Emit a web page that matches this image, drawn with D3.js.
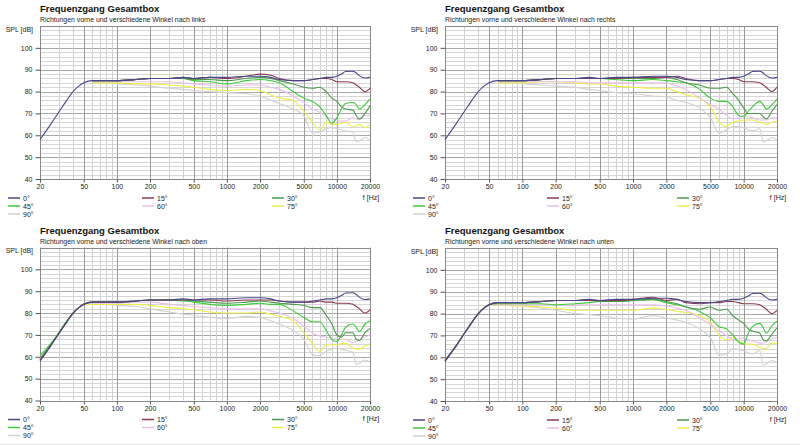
<!DOCTYPE html>
<html>
<head>
<meta charset="utf-8">
<script src="https://cdn.jsdelivr.net/npm/d3@7"></script>
<style>
  body { margin: 0; background: #fff; }
  svg { display: block; font-family: "Liberation Sans", Arial, sans-serif; }
</style>
</head>
<body>
<svg id="chart" width="800" height="445"></svg>
<script>
// frequencies shared by every curve
const FREQ = [20, 25, 30, 35, 40, 45, 50, 60, 70, 80, 100, 150, 200, 300, 400, 500, 700, 1000, 1500,
  2000, 2500, 3000, 4000, 5000, 6000, 7000, 8000, 9000, 10000, 11000, 12000, 14000, 15000, 16000, 18000, 20000];

const ANGLES = ['0°', '15°', '30°', '45°', '60°', '75°', '90°'];
const COLORS = ['#47478c', '#8c3c52', '#4b9a4b', '#3ccc3c', '#e9c0e9', '#eeee4a', '#d2d2d2'];

const X_TICKS = [20, 50, 100, 200, 500, 1000, 2000, 5000, 10000, 20000];
const Y_TICKS = [40, 50, 60, 70, 80, 90, 100];

const TITLE = 'Frequenzgang Gesamtbox';
const SUBTITLES = [
  'Richtungen vorne und verschiedene Winkel nach links',
  'Richtungen vorne und verschiedene Winkel nach rechts',
  'Richtungen vorne und verschiedene Winkel nach oben',
  'Richtungen vorne und verschiedene Winkel nach unten'
];

const _ = null;

// on axis, same in every panel
const ON_AXIS = [58, 65, 71, 76, 80, 82.5, 84, 85, 85, 85, 85, 85.5, 86, 86, 86.5, 86, 86.5, 86.5, 87,
  87, 86.5, 85.5, 85, 85, 85.5, 86, 86.5, 86.5, 87, 88, 89.2, 89.3, 88.5, 87.3, 86.2, 86.5];

// nach links
const LINKS_15 = [_, _, _, _, _, _, _, 85, 85, 85, 85, 85.5, 86, 86, 86.5, 86, 86.5, 86, 87,
  88, 87.5, 86, 85, 85, 85.5, 86, 86, 85.5, 84.5, 84.5, 84.5, 84, 83, 82, 80, 81.5];
const LINKS_30 = [_, _, _, _, _, _, _, 85, 85, 85, 85, 85.5, 86, 86, 86, 85.5, 85.5, 85, 86,
  86.5, 86, 85, 83.5, 82, 81.5, 82, 80, 77, 75.5, 73, 72, 71.5, 69, 67.5, 70, 73.5];
const LINKS_45 = [_, _, _, _, _, _, _, 85, 85, 85, 85, 85.5, 86, 86, 86, 85, 84.5, 83.5, 85,
  85.5, 85, 84, 80, 77, 75.5, 73, 69, 65.5, 68, 72, 74.5, 75, 74, 72, 74, 76.5];
const LINKS_60 = [_, _, _, _, _, _, _, 84.5, 84.5, 84.5, 84.5, 84.5, 84.5, 84.5, 84, 83.5, 83, 82.5, 83,
  83, 82, 81, 78, 75, 72, 70.5, 68.5, 67.5, 67, 66.5, 66.5, 68, 67.5, 67, 69, 69];
const LINKS_75 = [_, _, _, _, _, _, _, 84, 84, 84, 84, 83.5, 83.5, 83, 82.5, 82, 81, 80.5, 81,
  80.5, 78.5, 77, 76, 71, 66, 62.5, 66, 65, 65, 65.5, 66, 64, 64.5, 65, 63.5, 65];
const LINKS_90 = [_, _, _, _, _, _, _, 84, 84, 84, 83.5, 83, 82.5, 81.5, 81, 80.5, 80, 79.5, 79,
  78, 76, 74.5, 72, 69, 61, 61.5, 63, 63.5, 63, 62.5, 62, 61.5, 57, 57.5, 59, 58];

// nach rechts
const RECHTS_15 = [_, _, _, _, _, _, _, 85, 85, 85, 85, 85.5, 86, 86, 86, 86, 86, 86.5, 86.5,
  86.5, 87, 86, 85, 85, 85.5, 86, 86, 85.5, 84.5, 84.5, 84.5, 84, 83, 82, 80, 82];
const RECHTS_30 = [_, _, _, _, _, _, _, 85, 85, 85, 85, 85.5, 86, 86, 86, 86, 86, 86, 86,
  86.5, 85.5, 84, 83, 81.5, 81.5, 82, 79, 76, 72.5, 70, 70, 70, 68.5, 67.5, 71, 74];
const RECHTS_45 = [_, _, _, _, _, _, _, 85, 85, 85, 85, 85.5, 86, 86, 86, 86, 85.5, 85, 85.5,
  85, 84.5, 84, 81, 77, 75.5, 75.5, 73, 69, 68.5, 71, 73, 75.5, 74, 72, 74, 76.5];
const RECHTS_60 = [_, _, _, _, _, _, _, 84.5, 84.5, 84.5, 84.5, 84.5, 84.5, 84.5, 84, 84, 84, 84, 84,
  84, 82.5, 81, 77, 74, 72, 69, 67.5, 68, 69, 68.5, 68, 67, 67, 67, 68, 68];
const RECHTS_75 = [_, _, _, _, _, _, _, 84, 84, 84, 84, 84.5, 84.5, 84, 83.5, 83.5, 82.5, 82, 81.5,
  81.5, 80, 78.5, 77, 73, 66, 64, 66, 66.5, 67, 67, 67, 66, 65.5, 65, 66, 66.5];
const RECHTS_90 = [_, _, _, _, _, _, _, 84, 84, 84, 83.5, 83, 82.5, 82, 81, 80.5, 79.5, 79, 78,
  77.5, 76, 75, 72.5, 68, 61, 62.5, 64, 64, 63.5, 62.5, 62, 63, 57, 57.5, 59, 58];

// nach oben
const OBEN_15 = [58.5, 65, 71, 76, 80, 82.5, 84, 85, 85, 85, 85, 85.5, 86, 86, 86, 86, 86, 85.5, 86,
  86, 86, 85.5, 85, 85, 85, 85.5, 85, 85, 84.5, 84.5, 84.5, 84, 83, 82, 80, 81.5];
const OBEN_30 = [59, 65.5, 71, 76, 80, 82.5, 84, 85, 85, 85, 85, 85.5, 86, 86, 86, 85.5, 85, 84.5, 85,
  85.5, 85, 84.5, 84, 83.5, 82.5, 82.5, 79, 75, 70, 69, 71, 71, 68, 67.5, 71, 73];
const OBEN_45 = [60.5, 66, 71.5, 76.5, 80, 82.5, 84, 85, 85, 85, 85, 85.5, 86, 86, 85.5, 85, 84, 83.5, 84,
  84.5, 84, 84, 81, 78, 76, 76, 72, 68, 67, 70, 73.5, 75, 73.5, 71.5, 75, 76.5];
const OBEN_60 = [59, 65.5, 71, 76, 80, 82.5, 84, 84.5, 84.5, 84.5, 84.5, 85, 85, 84, 83.5, 83, 82.5, 82, 82,
  82, 81, 80, 77.5, 74, 71, 69.5, 69, 68.5, 68.5, 68, 68, 66.5, 67, 68, 69, 70];
const OBEN_75 = [59, 65.5, 71, 76, 80, 82.5, 84, 84, 84, 84, 84, 84, 83.5, 82.5, 82, 81.5, 80.5, 80, 80,
  80.5, 79.5, 78.5, 76.5, 71, 66, 62.5, 65.5, 65.5, 65.5, 66, 66, 64, 63.5, 63.5, 65, 66];
const OBEN_90 = [59, 65.5, 71, 76, 80, 82.5, 84, 84, 84, 84, 83.5, 83, 82, 80.5, 79.5, 79, 78, 77.5, 78.5,
  78, 76.5, 75, 72, 68, 61, 60.5, 62.5, 63.5, 64, 63.5, 63, 62, 56.5, 57, 58.5, 57.5];

// nach unten
const UNTEN_15 = [58.5, 65, 71, 76, 80, 82.5, 84, 85, 85, 85, 85, 85.5, 86, 86, 86, 86, 86, 86.5, 87.5,
  86, 86.5, 85, 84.5, 85, 85, 85.5, 85.5, 85, 84.5, 84.5, 84.5, 84, 83, 82, 80, 81.5];
const UNTEN_30 = [58.5, 65, 71, 76, 80, 82.5, 84, 85, 85, 85, 85, 85.5, 86, 86, 86, 85.5, 85.5, 86, 86.5,
  85.5, 84.5, 83, 82, 83, 81.5, 82, 79, 77, 75.5, 73, 72, 71, 68, 67.5, 70.5, 73.5];
const UNTEN_45 = [58.5, 65, 71, 76, 80, 82.5, 84, 84.5, 84.5, 84.5, 84.5, 84.5, 84, 84.5, 85, 85.5, 85.5, 86, 86.5,
  85, 84, 83, 81, 78, 74, 73, 70, 67, 66, 71, 74, 75.5, 73.5, 71, 74.5, 76.5];
const UNTEN_60 = [58.5, 65, 71, 76, 80, 82.5, 84, 84, 84, 84, 84, 84, 84, 84, 84, 84, 84, 84, 84,
  83.5, 82.5, 81.5, 78, 75, 72, 70, 68, 68.5, 69, 68, 67.5, 66.5, 66.5, 67, 68.5, 69];
const UNTEN_75 = [58.5, 65, 71, 76, 80, 82.5, 84, 84, 84, 83.5, 83.5, 83, 82.5, 81.5, 81.5, 81.5, 81.5, 81.5, 82.5,
  82, 81, 80.5, 79, 76, 70, 68, 69, 67.5, 66.5, 66, 66, 64.5, 64, 64, 66.5, 66.5];
const UNTEN_90 = [58.5, 65, 71, 76, 80, 82.5, 84, 84, 84, 84, 83.5, 82.5, 81.5, 80, 79.5, 79, 78, 77.5, 79,
  78, 77, 76, 73, 69, 61, 61.5, 64, 63.5, 63, 62, 61.5, 63, 56.5, 57, 58.5, 57.5];

const panels = [
  { left: 40, bottom: 179, width: 330, sub: SUBTITLES[0],
    series: [ON_AXIS, LINKS_15, LINKS_30, LINKS_45, LINKS_60, LINKS_75, LINKS_90] },
  { left: 445, bottom: 179, width: 332, sub: SUBTITLES[1],
    series: [ON_AXIS, RECHTS_15, RECHTS_30, RECHTS_45, RECHTS_60, RECHTS_75, RECHTS_90] },
  { left: 40, bottom: 400.5, width: 330, sub: SUBTITLES[2],
    series: [ON_AXIS, OBEN_15, OBEN_30, OBEN_45, OBEN_60, OBEN_75, OBEN_90] },
  { left: 445, bottom: 401, width: 332, sub: SUBTITLES[3],
    series: [ON_AXIS, UNTEN_15, UNTEN_30, UNTEN_45, UNTEN_60, UNTEN_75, UNTEN_90] }
];

const svg = d3.select('#chart');

function minorFreqs() {
  const out = [];
  [10, 100, 1000, 10000].forEach(dec => {
    for (let m = 1; m <= 9; m++) {
      const f = m * dec;
      if (f >= 20 && f <= 20000) out.push(f);
    }
  });
  return out;
}

function drawPanel(p) {
  const x = d3.scaleLog().domain([20, 20000]).range([p.left, p.left + p.width]);
  const y = d3.scaleLinear().domain([40, 110]).range([p.bottom, p.bottom - 153]);
  const g = svg.append('g');
  const top = y(110);

  // grid
  const dbMinor = d3.range(40, 111, 2);
  g.selectAll('.hgrid')
    .data(dbMinor)
    .enter()
    .append('line')
    .attr('x1', p.left).attr('x2', p.left + p.width)
    .attr('y1', d => Math.round(y(d)) + 0.5).attr('y2', d => Math.round(y(d)) + 0.5)
    .attr('stroke', d => d % 10 === 0 ? '#a8a8a8' : '#d6d6d6')
    .attr('stroke-width', 1);

  g.selectAll('.vgrid')
    .data(minorFreqs())
    .enter()
    .append('line')
    .attr('x1', d => Math.round(x(d)) + 0.5).attr('x2', d => Math.round(x(d)) + 0.5)
    .attr('y1', top).attr('y2', p.bottom)
    .attr('stroke', d => X_TICKS.includes(d) ? '#9a9a9a' : '#d0d0d0')
    .attr('stroke-width', 1);

  g.append('rect')
    .attr('x', p.left + 0.5).attr('y', Math.round(top) + 0.5)
    .attr('width', p.width).attr('height', Math.round(p.bottom) - Math.round(top))
    .attr('fill', 'none')
    .attr('stroke', '#8a8a8a');

  // axes
  const yAxis = d3.axisLeft(y).tickValues(Y_TICKS).tickSize(5).tickPadding(3);
  g.append('g')
    .attr('transform', `translate(${p.left + 0.5},0)`)
    .call(yAxis)
    .call(a => a.select('.domain').remove())
    .call(a => a.selectAll('line').attr('stroke', '#555'))
    .call(a => a.selectAll('text').attr('font-size', 7).attr('fill', '#222')
      .attr('font-family', '"Liberation Sans", Arial, sans-serif'));

  const xAxis = d3.axisBottom(x).tickValues(X_TICKS).tickFormat(d3.format('d')).tickSize(3).tickPadding(2);
  g.append('g')
    .attr('transform', `translate(0,${Math.round(p.bottom) + 0.5})`)
    .call(xAxis)
    .call(a => a.select('.domain').remove())
    .call(a => a.selectAll('line').attr('stroke', '#555'))
    .call(a => a.selectAll('text').attr('font-size', 7).attr('fill', '#222')
      .attr('font-family', '"Liberation Sans", Arial, sans-serif'));

  // texts
  g.append('text')
    .attr('x', p.left).attr('y', p.bottom - 167)
    .attr('font-size', 9.5).attr('font-weight', 'bold').attr('fill', '#111')
    .text(TITLE);
  g.append('text')
    .attr('x', p.left).attr('y', p.bottom - 157)
    .attr('font-size', 6.9).attr('fill', '#222')
    .text(p.sub);
  g.append('text')
    .attr('x', p.left - 7).attr('y', p.bottom - 147.5)
    .attr('text-anchor', 'end')
    .attr('font-size', 7).attr('fill', '#222')
    .text('SPL [dB]');
  g.append('text')
    .attr('x', p.left + p.width + 1).attr('y', p.bottom + 20.5)
    .attr('text-anchor', 'middle')
    .attr('font-size', 7).attr('fill', '#222')
    .text('f [Hz]');

  // curves, on-axis drawn last
  const line = d3.line()
    .defined(d => d[1] !== null)
    .x(d => x(d[0]))
    .y(d => y(d[1]))
    .curve(d3.curveMonotoneX);

  const order = [6, 5, 4, 3, 2, 1, 0];
  g.selectAll('.curve')
    .data(order)
    .enter()
    .append('path')
    .attr('fill', 'none')
    .attr('stroke', i => COLORS[i])
    .attr('stroke-width', 1.1)
    .attr('d', i => line(FREQ.map((f, k) => [f, p.series[i][k]])));

  // legend
  const colX = [p.left - 32, p.left + 102, p.left + 232];
  const leg = g.selectAll('.leg')
    .data(ANGLES)
    .enter()
    .append('g')
    .attr('transform', (d, i) => `translate(${colX[i % 3]},${p.bottom + 19 + Math.floor(i / 3) * 8})`);
  leg.append('line')
    .attr('x1', 0).attr('x2', 12)
    .attr('stroke', (d, i) => COLORS[i])
    .attr('stroke-width', 1.5);
  leg.append('text')
    .attr('x', 15).attr('y', 2.5)
    .attr('font-size', 7).attr('fill', '#222')
    .text(d => d);
}

panels.forEach(drawPanel);

// thin separator line at the very bottom like the screenshot edge
svg.append('line')
  .attr('x1', 0).attr('x2', 800)
  .attr('y1', 444.5).attr('y2', 444.5)
  .attr('stroke', '#e4e4e4');
</script>
</body>
</html>
